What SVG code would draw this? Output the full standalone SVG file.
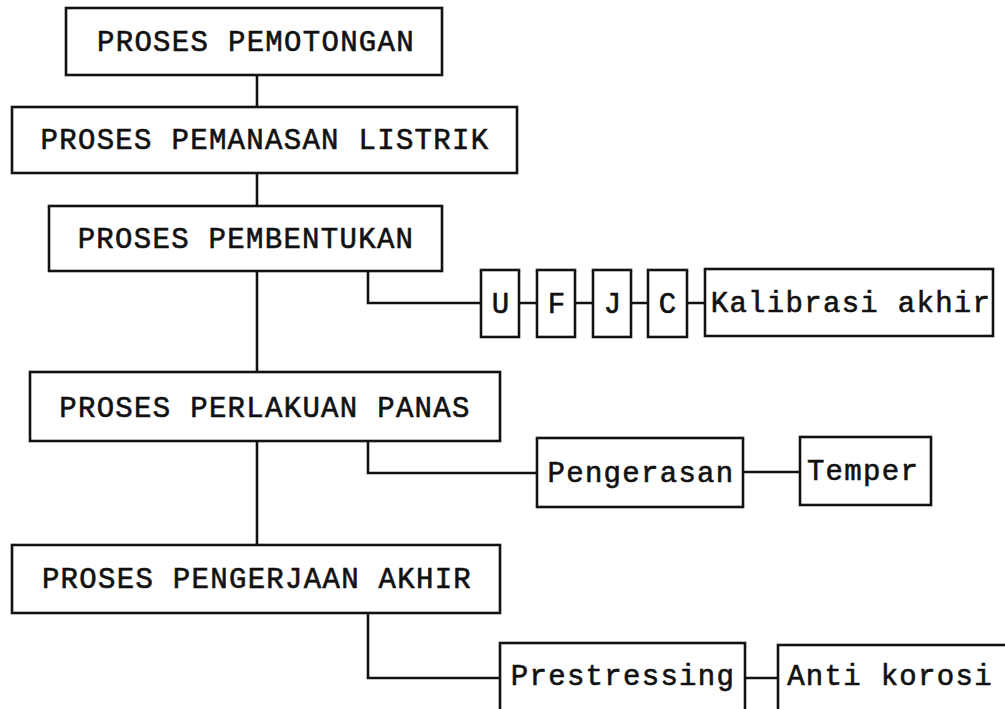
<svg xmlns="http://www.w3.org/2000/svg" width="1005" height="709" viewBox="0 0 1005 709">
<style>
.box{fill:#fff;stroke:#111;stroke-width:2.6}
.t{font-family:"Liberation Mono","Courier New",monospace;font-size:29px;letter-spacing:1.3px;fill:#111;stroke:#111;stroke-width:0.6;text-anchor:middle}
.c{fill:none;stroke:#111;stroke-width:2.6}
</style>
<rect width="1005" height="709" fill="#fff"/>
<g id="connectors">
<path class="c" d="M257 75V107M257 173V206M257 271V372M257 441V545"/>
<path class="c" d="M368 271V303H481M519 303H537M575 303H593M631 303H648M687 303H705"/>
<path class="c" d="M368 441V473H537M743 472H800"/>
<path class="c" d="M368 613V678H500M745 678H778"/>
</g>
<g id="n1"><rect class="box" x="66" y="8" width="376" height="67"/><text class="t" x="256" y="51">PROSES PEMOTONGAN</text></g>
<g id="n2"><rect class="box" x="12" y="107" width="505" height="66"/><text class="t" x="265" y="149">PROSES PEMANASAN LISTRIK</text></g>
<g id="n3"><rect class="box" x="49" y="206" width="393" height="65"/><text class="t" x="246" y="248">PROSES PEMBENTUKAN</text></g>
<g id="nU"><rect class="box" x="481" y="270" width="38" height="67"/><text class="t" x="501" y="313">U</text></g>
<g id="nF"><rect class="box" x="537" y="270" width="38" height="67"/><text class="t" x="557" y="313">F</text></g>
<g id="nJ"><rect class="box" x="593" y="270" width="38" height="67"/><text class="t" x="613" y="313">J</text></g>
<g id="nC"><rect class="box" x="648" y="270" width="39" height="67"/><text class="t" x="668" y="313">C</text></g>
<g id="nK"><rect class="box" x="705" y="269" width="288" height="67"/><text class="t" x="851" y="312">Kalibrasi akhir</text></g>
<g id="n4"><rect class="box" x="30" y="372" width="470" height="69"/><text class="t" x="265" y="417">PROSES PERLAKUAN PANAS</text></g>
<g id="nP"><rect class="box" x="537" y="438" width="206" height="69"/><text class="t" x="641" y="482">Pengerasan</text></g>
<g id="nT"><rect class="box" x="800" y="437" width="131" height="68"/><text class="t" x="863" y="480">Temper</text></g>
<g id="n5"><rect class="box" x="12" y="545" width="488" height="68"/><text class="t" x="257" y="588">PROSES PENGERJAAN AKHIR</text></g>
<g id="nPr"><rect class="box" x="500" y="643" width="245" height="80"/><text class="t" x="623" y="685">Prestressing</text></g>
<g id="nA"><rect class="box" x="778" y="645" width="240" height="80"/><text class="t" x="890" y="685">Anti korosi</text></g>
</svg>
